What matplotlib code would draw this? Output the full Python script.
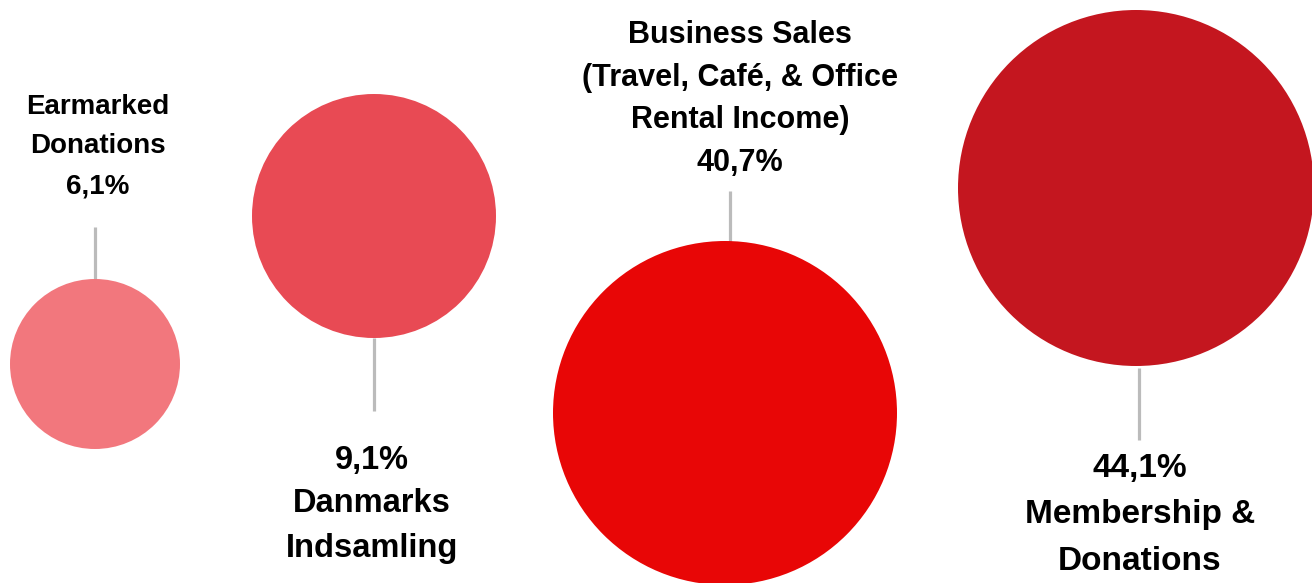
import matplotlib.pyplot as plt
from matplotlib.patches import Circle

# data
names = ['Earmarked\nDonations', 'Danmarks\nIndsamling',
         'Business Sales\n(Travel, Café, & Office\nRental Income)', 'Membership &\nDonations']
shares = [6.1, 9.1, 40.7, 44.1]
colors = ['#f2777d', '#e84a54', '#e80606', '#c4161f']

# layout in pixels (hand placed like the original)
cx = [95, 374, 725, 1136]
cy = [364, 216, 413, 188]
radius = [85, 122, 172, 178]
label_above = [True, False, True, False]
label_x = [98, 372, 740, 1140]
line_x = [95, 374, 730, 1139]
line_y = [(227, 280), (338, 411), (191, 242), (368, 440)]
label_y = [[107, 146, 187], [460, 503, 549], [35, 78, 120, 163], [469, 515, 561]]
label_size = [20, 23.5, 22, 24]

plt.rcParams['font.family'] = ['Liberation Sans', 'DejaVu Sans']

fig = plt.figure(figsize=(13.12, 5.83), dpi=100)
ax = fig.add_axes([0, 0, 1, 1])
ax.set_xlim(0, 1312)
ax.set_ylim(583, 0)
ax.axis('off')

for i in range(len(shares)):
    ax.add_patch(Circle((cx[i], cy[i]), radius[i], color=colors[i], lw=0, zorder=2))
    ax.plot([line_x[i], line_x[i]], line_y[i], color='#bbbbbb', lw=2.3, zorder=1,
            solid_capstyle='butt')
    pct = f'{shares[i]:.1f}%'.replace('.', ',')
    if label_above[i]:
        lines = names[i].split('\n') + [pct]
    else:
        lines = [pct] + names[i].split('\n')
    for txt, y in zip(lines, label_y[i]):
        ax.text(label_x[i], y, txt, ha='center', va='center', fontsize=label_size[i],
                fontweight='bold', color='black')

fig.savefig('out.png', dpi=100)
